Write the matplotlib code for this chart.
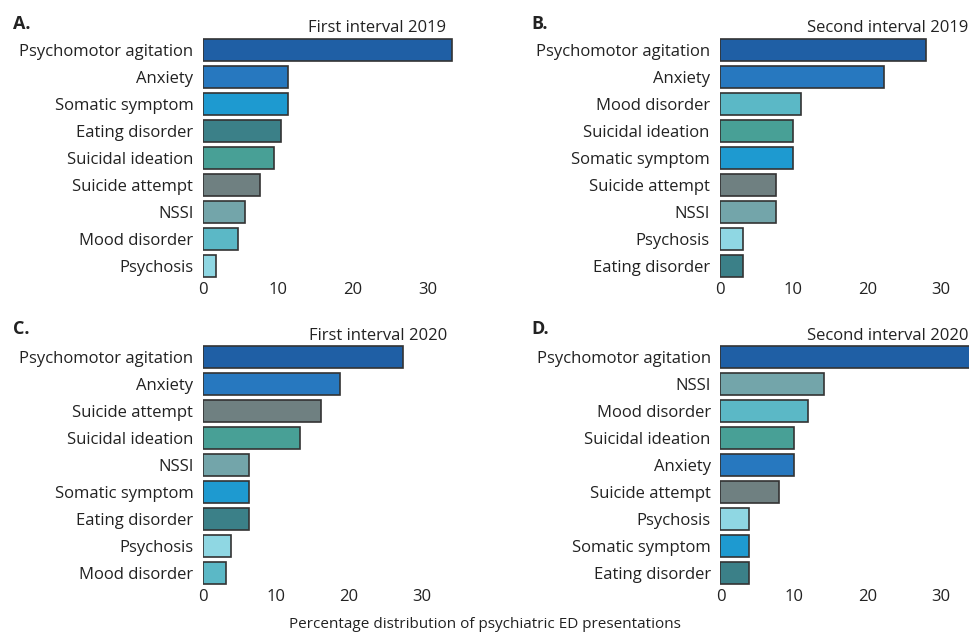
import matplotlib.pyplot as plt

plt.rcParams['font.family'] = ['Open Sans', 'DejaVu Sans']

# colour per presentation type (same in every panel)
colors = {
    'Psychomotor agitation': '#1f5fa5',
    'Anxiety': '#2778bf',
    'Somatic symptom': '#1e9ad0',
    'Eating disorder': '#3b8088',
    'Suicidal ideation': '#48a096',
    'Suicide attempt': '#6f8081',
    'NSSI': '#73a5aa',
    'Mood disorder': '#5bb8c6',
    'Psychosis': '#8fd7e3',
}

labels_a = ['Psychomotor agitation', 'Anxiety', 'Somatic symptom', 'Eating disorder',
            'Suicidal ideation', 'Suicide attempt', 'NSSI', 'Mood disorder', 'Psychosis']
values_a = [33.2, 11.3, 11.3, 10.4, 9.5, 7.6, 5.6, 4.7, 1.8]

labels_b = ['Psychomotor agitation', 'Anxiety', 'Mood disorder', 'Suicidal ideation',
            'Somatic symptom', 'Suicide attempt', 'NSSI', 'Psychosis', 'Eating disorder']
values_b = [27.9, 22.3, 11.0, 9.9, 9.9, 7.7, 7.7, 3.2, 3.2]

labels_c = ['Psychomotor agitation', 'Anxiety', 'Suicide attempt', 'Suicidal ideation',
            'NSSI', 'Somatic symptom', 'Eating disorder', 'Psychosis', 'Mood disorder']
values_c = [27.4, 18.8, 16.1, 13.3, 6.3, 6.3, 6.3, 3.9, 3.1]

labels_d = ['Psychomotor agitation', 'NSSI', 'Mood disorder', 'Suicidal ideation',
            'Anxiety', 'Suicide attempt', 'Psychosis', 'Somatic symptom', 'Eating disorder']
values_d = [35.0, 14.0, 11.9, 10.0, 10.0, 7.9, 3.9, 3.9, 3.9]

titles = ['First interval 2019', 'Second interval 2019', 'First interval 2020', 'Second interval 2020']
letters = ['A.', 'B.', 'C.', 'D.']

fig = plt.figure(figsize=(9.7, 6.38), dpi=100)
W, H = 970, 638

# axes boxes in pixels: left, top, right, bottom
boxes = [(203, 36.5, 455, 279.5), (719.5, 36.5, 970, 279.5),
         (203, 343.5, 455, 586.5), (720.5, 343.5, 970, 586.5)]
xmax = [33.6, 33.9, 34.5, 33.9]
title_x = [0.965, 0.995, 0.97, 0.995]
letter_pos = [(13, 29), (531, 29), (13, 334), (531, 334)]

data = [(labels_a, values_a), (labels_b, values_b), (labels_c, values_c), (labels_d, values_d)]

for i, (labs, vals) in enumerate(data):
    l, t, r, b = boxes[i]
    ax = fig.add_axes([l / W, 1 - b / H, (r - l) / W, (b - t) / H])
    ys = list(range(len(labs)))
    ax.barh(ys, vals, height=0.8, color=[colors[n] for n in labs],
            edgecolor='#333333', linewidth=1.2)
    ax.set_ylim(len(labs) - 0.5, -0.5)
    ax.set_xlim(0, xmax[i])
    ax.set_yticks(ys)
    ax.set_yticklabels(labs)
    ax.set_xticks([0, 10, 20, 30])
    ax.tick_params(length=0, labelsize=12, colors='#222222')
    ax.tick_params(axis='y', pad=7)
    ax.tick_params(axis='x', pad=2)
    for s in ax.spines.values():
        s.set_visible(False)
    ax.text(title_x[i], 1.0, titles[i], transform=ax.transAxes, ha='right', va='bottom',
            fontsize=12, color='#222222')
    fig.text(letter_pos[i][0] / W, 1 - letter_pos[i][1] / H, letters[i],
             fontsize=13, fontweight='bold', color='#222222')

fig.text(485 / W, 1 - 625 / H, 'Percentage distribution of psychiatric ED presentations',
         ha='center', va='center', fontsize=11, color='#222222')

fig.savefig('out.png', dpi=100)
